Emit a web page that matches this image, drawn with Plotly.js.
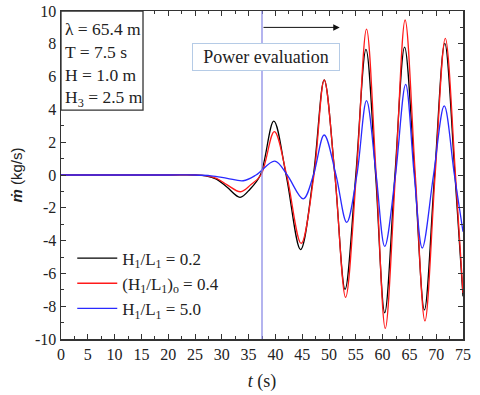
<!DOCTYPE html>
<html>
<head>
<meta charset="utf-8">
<script src="https://cdn.plot.ly/plotly-3.0.1.min.js"></script>
<style>
  html, body { margin: 0; padding: 0; background: #fff; }
  #chart { width: 480px; height: 395px; }
</style>
</head>
<body>
<div id="chart"></div>
<script>
  /* mass flow vs time */
  var T_BLACK = [0, 20, 25, 27, 29, 31, 33.4, 35.3, 37.2, 39.7, 42.0, 44.7, 47.1, 49.1, 51.1, 53.0, 55.0, 56.9, 58.7, 60.4, 62.3, 64.1, 66.0, 67.8, 69.7, 71.6, 73.5, 75];
  var M_BLACK = [0, 0, 0, -0.05, -0.25, -0.75, -1.36, -0.85, 0, 3.28, 0, -4.55, 0, 5.8, 0, -6.97, 0, 7.66, 0, -8.4, 0, 7.8, 0, -8.23, 0, 8.03, 0, -7.4];

  var T_RED = [0, 20, 25, 27, 29, 31, 33.5, 35.4, 37.3, 39.8, 42.1, 44.8, 47.2, 49.1, 51.1, 53.1, 55.1, 57.0, 58.8, 60.5, 62.4, 64.2, 66.1, 67.9, 69.8, 71.7, 73.6, 75];
  var M_RED = [0, 0, 0, -0.04, -0.2, -0.6, -1.02, -0.6, 0, 2.65, 0, -4.17, 0, 5.8, 0, -7.46, 0, 8.9, 0, -9.35, 0, 9.45, 0, -8.9, 0, 8.33, 0, -7.2];

  var T_BLUE = [0, 20, 25, 28, 31, 34, 36.4, 39.9, 42.2, 45.2, 47.1, 49.1, 51.3, 53.3, 55.2, 57.0, 58.8, 60.4, 62.4, 64.3, 65.9, 67.4, 69.5, 71.5, 73.4, 75];
  var M_BLUE = [0, 0, 0, -0.05, -0.2, -0.35, 0, 0.85, 0, -1.45, 0, 2.44, 0, -2.89, 0, 4.53, 0, -4.35, 0, 5.53, 0, -4.45, 0, 4.21, 0, -3.46];

  var NAMES = ['H<sub>1</sub>/L<sub>1</sub> = 0.2', '(H<sub>1</sub>/L<sub>1</sub>)<sub>o</sub> = 0.4', 'H<sub>1</sub>/L<sub>1</sub> = 5.0'];
  var PARAMS = ['λ = 65.4 m', 'T = 7.5 s', 'H = 1.0 m', 'H<sub>3</sub> = 2.5 m'];
  var Y_TICKS = [-10, -8, -6, -4, -2, 0, 2, 4, 6, 8, 10];
  var Y_TICK_TEXT = ['-10', '-8', '-6', '-4', '-2', '0', '2', '4', '6', '8', '10'];
  var T_EVAL = 37.5;
  var T_ARROW_END = 52;

  var SERIF = 'Liberation Serif, Times New Roman, serif';

  function curve(x, y, name, color) {
    return { x: x, y: y, name: name, mode: 'lines', line: { color: color, width: 1.3, shape: 'spline', smoothing: 1 }, hoverinfo: 'skip' };
  }
  var traces = [
    curve(T_BLACK, M_BLACK, NAMES[0], '#000000'),
    curve(T_RED, M_RED, NAMES[1], '#ff1a1a'),
    curve(T_BLUE, M_BLUE, NAMES[2], '#2a2aff')
  ];

  function axis(dtick, range) {
    return {
      range: range, dtick: dtick, tick0: range[0], ticks: 'inside', ticklen: 5, tickwidth: 1, tickcolor: '#333',
      minor: { dtick: dtick / 2, ticks: 'inside', ticklen: 3, tickcolor: '#333' },
      showline: true, linecolor: '#333', linewidth: 1.5, mirror: 'ticks', showgrid: false, zeroline: false,
      tickfont: { family: SERIF, size: 16, color: '#222' }, fixedrange: true
    };
  }
  var xa = axis(5, [0, 75]);
  xa.title = { text: '<i>t</i> (s)', font: { family: SERIF, size: 18, color: '#222' }, standoff: 12 };
  var ya = axis(2, [-10, 10]);
  ya.tickmode = 'array';
  ya.tickvals = Y_TICKS;
  ya.ticktext = Y_TICK_TEXT;
  ya.title = { text: '<b><i>ṁ</i></b> (kg/s)', font: { family: 'Liberation Sans, Arial, sans-serif', size: 15, color: '#222' }, standoff: 8 };

  var layout = {
    width: 480, height: 395,
    margin: { l: 61, r: 17, t: 11, b: 56 },
    paper_bgcolor: '#fff', plot_bgcolor: '#fff',
    xaxis: xa, yaxis: ya,
    showlegend: true,
    legend: { x: 0.028, y: 0.3, xanchor: 'left', yanchor: 'top', itemwidth: 40, bgcolor: 'rgba(0,0,0,0)', font: { family: SERIF, size: 17, color: '#222' }, tracegroupgap: 0 },
    shapes: [
      { type: 'line', xref: 'x', yref: 'paper', x0: T_EVAL, x1: T_EVAL, y0: 0, y1: 1, line: { color: '#8c8ce6', width: 1.3 } },
      /* parameter box */
      { type: 'rect', xref: 'paper', yref: 'paper', x0: 0, x1: 0.204, y0: 0.698, y1: 1, line: { color: '#333', width: 1.3 }, fillcolor: '#fff', layer: 'above' }
    ],
    annotations: [
      { xref: 'paper', yref: 'paper', x: 0.006, y: 0.836, xanchor: 'left', yanchor: 'middle', align: 'left', showarrow: false,
        text: PARAMS.join('<br>'), font: { family: SERIF, size: 17.5, color: '#222' } },
      { xref: 'x', yref: 'y', x: T_ARROW_END, y: 9, ax: T_EVAL, ay: 9, axref: 'x', ayref: 'y', text: '',
        showarrow: true, arrowhead: 2, arrowsize: 1.3, arrowwidth: 1, arrowcolor: '#111', standoff: 0, startstandoff: 0 },
      { xref: 'x', yref: 'y', x: 38.3, y: 7.2, showarrow: false, text: 'Power evaluation',
        font: { family: SERIF, size: 18, color: '#222' }, bordercolor: '#b5cbe6', borderwidth: 1, borderpad: 3, bgcolor: '#fff', width: 140 }
    ]
  };

  Plotly.newPlot('chart', traces, layout, { displayModeBar: false, staticPlot: true });
</script>
</body>
</html>
